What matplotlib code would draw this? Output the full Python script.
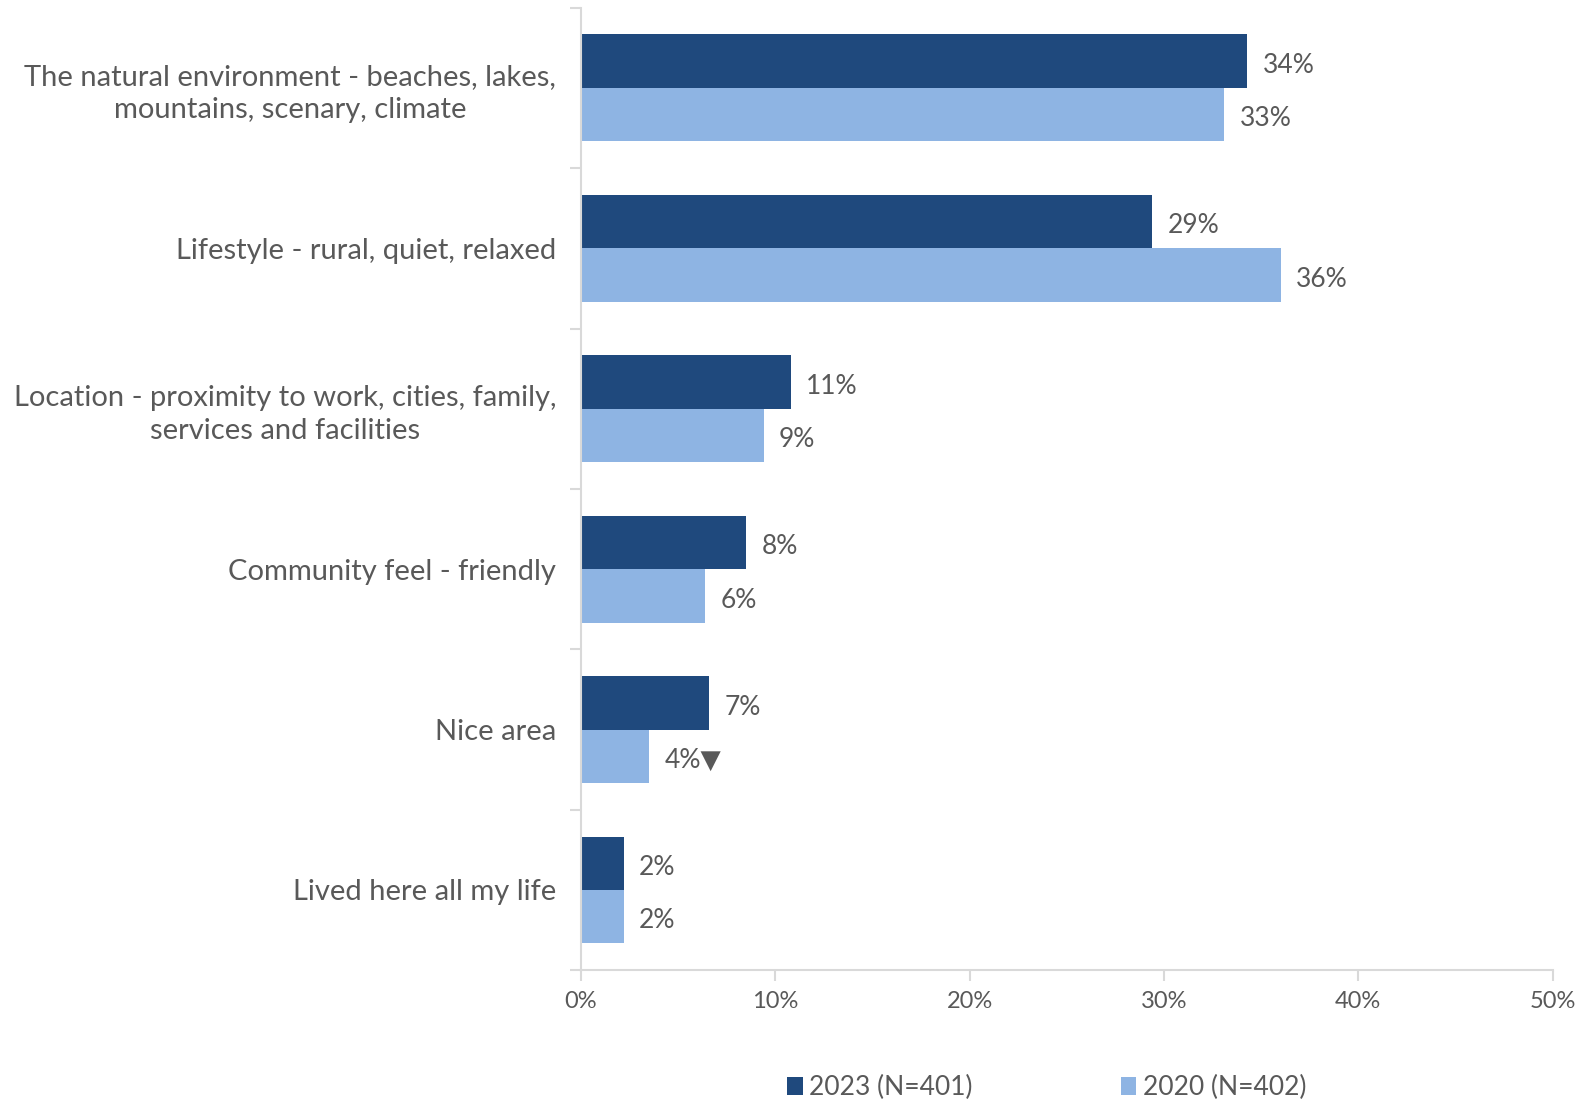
import matplotlib.pyplot as plt
import numpy as np

plt.rcParams['font.family'] = ['Lato', 'DejaVu Sans']

categories = [
    "The natural environment - beaches, lakes,\nmountains, scenary, climate",
    "Lifestyle - rural, quiet, relaxed",
    "Location - proximity to work, cities, family,\nservices and facilities",
    "Community feel - friendly",
    "Nice area",
    "Lived here all my life",
]
vals_2023 = [34.3, 29.4, 10.8, 8.5, 6.6, 2.2]
vals_2020 = [33.1, 36.0, 9.4, 6.4, 3.5, 2.2]
# significance markers on the 2020 labels
marks_2020 = ["", "", "", "", "\u25BC", ""]

dark = "#1f497d"
light = "#8eb4e3"
txt = "#595959"
grid = "#d9d9d9"

fig = plt.figure(figsize=(15.81, 11), dpi=100)
ax = fig.add_axes([0.3675, 0.118, 0.6145, 0.875])

y = np.arange(len(categories))
h = 1 / 3
ax.barh(y - h / 2, vals_2023, height=h, color=dark, label="2023 (N=401)")
ax.barh(y + h / 2, vals_2020, height=h, color=light, label="2020 (N=402)")

for yi, v in zip(y, vals_2023):
    ax.annotate(f"{v:.0f}%", (v, yi - h / 2), xytext=(11, -3), textcoords="offset points",
                ha="left", va="center", fontsize=19, color=txt)
for yi, v, m in zip(y, vals_2020, marks_2020):
    ax.annotate(f"{v:.0f}%{m}", (v, yi + h / 2), xytext=(11, -3), textcoords="offset points",
                ha="left", va="center", fontsize=19, color=txt)

ax.set_xlim(0, 50)
ax.set_ylim(len(categories) - 0.5, -0.5)
ax.set_xticks(np.arange(0, 51, 10))
ax.set_xticklabels([f"{t}%" for t in range(0, 51, 10)], fontsize=17, color=txt)
ax.set_yticks(y)
ax.set_yticklabels(categories, fontsize=21, color=txt, ha="right", multialignment="center",
                   linespacing=1.3)
ax.tick_params(axis="y", length=0, pad=18)
ax.set_yticks(np.arange(-0.5, len(categories), 1), minor=True)
ax.tick_params(axis="y", which="minor", length=8, color=grid, width=1.5)
ax.tick_params(axis="x", length=8, color=grid, width=1.5, pad=7)

for s in ["top", "right"]:
    ax.spines[s].set_visible(False)
for s in ["left", "bottom"]:
    ax.spines[s].set_color(grid)
    ax.spines[s].set_linewidth(1.5)

fig.legend(loc="lower center", bbox_to_anchor=(0.662, -0.022), ncol=2, frameon=False,
           fontsize=19, labelcolor=txt, handlelength=0.6, handleheight=0.7,
           handletextpad=0.25, columnspacing=5.6)

fig.savefig("out.png", dpi=100)
